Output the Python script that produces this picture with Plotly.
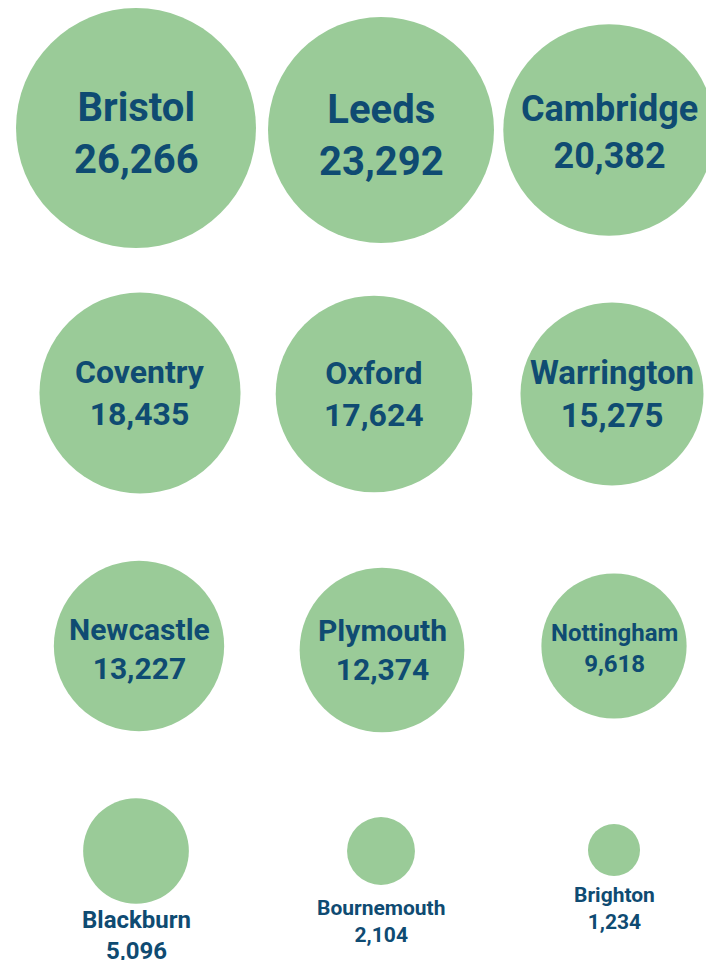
import plotly.graph_objects as go
import math

# ---- data ----
cities = ["Bristol", "Leeds", "Cambridge",
          "Coventry", "Oxford", "Warrington",
          "Newcastle", "Plymouth", "Nottingham",
          "Blackburn", "Bournemouth", "Brighton"]
values = [26266, 23292, 20382,
          18435, 17624, 15275,
          13227, 12374, 9618,
          5096, 2104, 1234]

# ---- layout (grid slots in page units) ----
slot_x = [136, 381, 609,
          140, 374, 612,
          139, 382, 614,
          136, 381, 614]
slot_y = [128, 130, 130,
          393, 394, 394,
          646, 650, 646,
          851, 851, 850]
label_size = [40, 40, 36,
              32, 32, 33,
              30, 30, 24,
              24, 21, 21]
label_inside = [True] * 9 + [False] * 3
label_drop = [5, 5, 2,
              0, 0, 0,
              3, 0, 2,
              0, 9, 5]

GREEN = "#9acb98"
NAVY = "#0f4b72"
MAX_DIAMETER = 240
vmax = max(values)
diam = [MAX_DIAMETER * math.sqrt(v / vmax) for v in values]

fig = go.Figure(go.Scatter(
    x=slot_x, y=slot_y,
    mode="markers",
    marker=dict(size=diam, sizemode="diameter", color=GREEN,
                line=dict(width=0), opacity=1),
    cliponaxis=False,
    hoverinfo="skip",
))

for c, v, x, y, d, s, ins, g in zip(cities, values, slot_x, slot_y, diam,
                                     label_size, label_inside, label_drop):
    txt = f"<b>{c}</b><br><b>{v:,}</b>"
    if ins:
        fig.add_annotation(x=x, y=y, text=txt, showarrow=False,
                           xanchor="center", yanchor="middle", yshift=-g,
                           font=dict(family="Roboto", size=s, color=NAVY))
    else:
        fig.add_annotation(x=x, y=y + d / 2, text=txt, showarrow=False,
                           xanchor="center", yanchor="top", yshift=-g,
                           font=dict(family="Roboto", size=s, color=NAVY))

fig.update_layout(
    width=706, height=960,
    margin=dict(l=0, r=0, t=0, b=0),
    paper_bgcolor="white", plot_bgcolor="white",
    showlegend=False,
    xaxis=dict(range=[0, 706], visible=False, fixedrange=True),
    yaxis=dict(range=[960, 0], visible=False, fixedrange=True),
)

fig.write_html("out.html",
               config=dict(displayModeBar=False, staticPlot=True),
               post_script="document.body.style.margin='0';document.body.style.overflow='hidden';")
